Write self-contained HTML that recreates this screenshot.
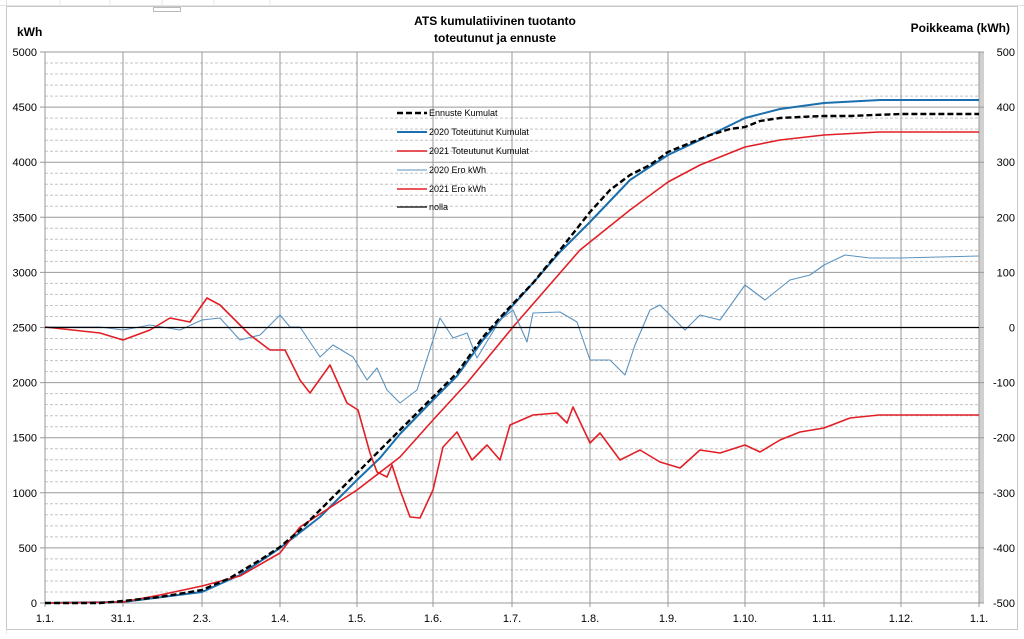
<!DOCTYPE html>
<html><head><meta charset="utf-8"><style>
body{margin:0;background:#fff;width:1024px;height:634px;overflow:hidden;font-family:"Liberation Sans",sans-serif}
svg text{font-family:"Liberation Sans",sans-serif}
</style></head><body>
<svg width="1024" height="634" viewBox="0 0 1024 634">
<rect x="0" y="0" width="1024" height="634" fill="#fff"/>
<g stroke="#e4e4e4" stroke-width="1">
<line x1="0" y1="5.5" x2="1024" y2="5.5"/><line x1="6.5" y1="0" x2="6.5" y2="634"/>
<line x1="60" y1="0" x2="60" y2="6"/><line x1="110" y1="0" x2="110" y2="6"/><line x1="162" y1="0" x2="162" y2="6"/><line x1="214" y1="0" x2="214" y2="6"/><line x1="270" y1="0" x2="270" y2="6"/>
</g>
<rect x="6.5" y="6.5" width="1011" height="623" fill="#fff" stroke="#c8c8c8"/>
<rect x="153.5" y="7.5" width="27" height="4" fill="#fff" stroke="#bbb"/>
<rect x="979" y="52" width="5" height="551" fill="#d0d0d0"/>
<g stroke="#c4c4c4" stroke-dasharray="3,2" stroke-width="1">
<path id="mg" d=""/>
</g>
<g id="grid"></g>
<text x="17" y="36" font-size="12" font-weight="bold">kWh</text>
<text x="1010" y="32" font-size="12" font-weight="bold" text-anchor="end">Poikkeama (kWh)</text>
<text x="495" y="25" font-size="12" font-weight="bold" text-anchor="middle">ATS kumulatiivinen tuotanto</text>
<text x="495" y="42" font-size="12" font-weight="bold" text-anchor="middle">toteutunut ja ennuste</text>
<g fill="none" stroke-linejoin="round">
<polyline stroke="#1a6fae" stroke-width="2" points="45,603 123,602 202,592 240,575 280,548 320,517 357,480 380,458 400,434 433,400 457,376 483,340 507,312 533,283 560,252 590,222 630,180 668,155 700,140 745,118 780,109 824,103 880,100 979,100"/>
<polyline stroke="#e21f26" stroke-width="1.6" points="45,603 123,602 160,595 202,586 240,576 280,553 300,527 357,490 400,457 433,420 467,383 513,327 580,250 630,210 668,182 700,165 745,147 780,140 824,135 879,132 979,132"/>
<polyline stroke="#000" stroke-width="2.4" stroke-dasharray="6,3" points="45,603 100,603 123,601 160,597 202,590 230,578 260,560 280,547 300,530 333,497 367,463 400,430 433,397 457,373 483,337 507,310 533,283 560,250 590,212 610,190 630,175 650,165 668,152 690,143 710,135 730,129 745,127 760,121 780,118 800,117 824,116 850,116 900,114 979,114"/>
<polyline stroke="#5b93bf" stroke-width="1.1" points="45,327 100,327 123,330 150,325 180,330 202,320 220,318 240,340 260,335 280,315 290,327 300,327 320,357 333,345 353,357 367,380 377,368 387,390 400,403 417,390 433,340 440,318 453,338 467,333 477,358 500,320 513,310 527,342 533,313 560,312 577,322 590,360 610,360 625,375 635,345 650,310 660,305 670,315 685,330 700,315 720,320 745,285 765,300 790,280 810,275 824,265 845,255 870,258 900,258 979,256"/>
<polyline stroke="#e21f26" stroke-width="1.6" points="45,327 100,333 123,340 150,330 170,318 190,322 207,298 220,305 235,320 250,335 270,350 285,350 300,380 310,393 330,365 347,403 358,410 370,453 377,472 387,477 392,465 400,490 410,517 420,518 433,490 443,447 457,432 472,460 487,445 500,460 510,425 533,415 557,413 567,423 573,407 590,443 600,433 620,460 640,450 660,462 680,468 700,450 720,453 745,445 760,452 780,440 800,432 824,428 850,418 879,415 979,415"/>
<line x1="45" y1="327.5" x2="979" y2="327.5" stroke="#000" stroke-width="1.3"/>
</g>
<g font-size="9" fill="#000">
<line x1="397" y1="113" x2="427" y2="113" stroke="#000" stroke-width="2.4" stroke-dasharray="6,3"/><text x="429" y="116">Ennuste Kumulat</text>
<line x1="397" y1="132" x2="427" y2="132" stroke="#1a6fae" stroke-width="2"/><text x="429" y="135">2020 Toteutunut Kumulat</text>
<line x1="397" y1="151" x2="427" y2="151" stroke="#e21f26" stroke-width="1.6"/><text x="429" y="154">2021 Toteutunut Kumulat</text>
<line x1="397" y1="170" x2="427" y2="170" stroke="#5b93bf" stroke-width="1.1"/><text x="429" y="173">2020 Ero kWh</text>
<line x1="397" y1="189" x2="427" y2="189" stroke="#e21f26" stroke-width="1.6"/><text x="429" y="192">2021 Ero kWh</text>
<line x1="397" y1="207" x2="427" y2="207" stroke="#000" stroke-width="1.3"/><text x="429" y="210">nolla</text>
</g>
</svg>
<script>
const y0=603,y1=52,h=y0-y1;
let d="";
for(let i=1;i<50;i++){if(i%5===0)continue;const y=(y0-h*i/50).toFixed(1);d+=`M45 ${y}H979`;}
document.getElementById("mg").setAttribute("d",d);
const g=document.getElementById("grid");
let s="";
for(let i=0;i<=10;i++){const y=(y0-h*i/10).toFixed(1);s+=`<line x1="40" y1="${y}" x2="984" y2="${y}" stroke="#999" stroke-width="1"/>`;}
const xs=[45,123,202,280,357,433,512,590,668,745,824,901,979];
const lb=["1.1.","31.1.","2.3.","1.4.","1.5.","1.6.","1.7.","1.8.","1.9.","1.10.","1.11.","1.12.","1.1."];
xs.forEach((x,i)=>{s+=`<line x1="${x}" y1="52" x2="${x}" y2="607" stroke="#999" stroke-width="1"/><text x="${x}" y="622" font-size="11" text-anchor="middle">${lb[i]}</text>`;});
for(let i=0;i<=10;i++){const y=y0-h*i/10+4;s+=`<text x="37" y="${y}" font-size="11" text-anchor="end">${i*500}</text><text x="1015" y="${y}" font-size="11" text-anchor="end">${(i-5)*100}</text>`;}
g.innerHTML=s;
</script>
</body></html>
